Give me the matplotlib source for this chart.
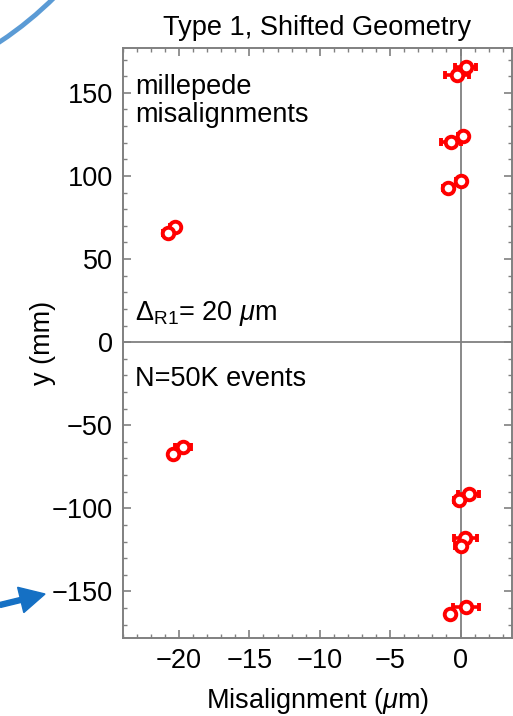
import matplotlib
matplotlib.use("Agg")
import matplotlib.pyplot as plt
from matplotlib.patches import Arc, FancyArrow
from matplotlib.transforms import IdentityTransform
from matplotlib.ticker import MultipleLocator

plt.rcParams['font.family'] = ['Liberation Sans', 'DejaVu Sans']
plt.rcParams['mathtext.fontset'] = 'custom'
plt.rcParams['mathtext.rm'] = 'Liberation Sans'
plt.rcParams['mathtext.it'] = 'Liberation Sans:italic'

# millepede fitted misalignments, first point of each pair
x_a = [0.38, 0.14, 0.0, -20.3, -19.7, 0.57, 0.33, 0.38]
y_a = [165.6, 124.3, 97.0, 69.2, -63.3, -91.1, -118.1, -159.1]
err_a = [0.75, 0.3, 0.3, 0.3, 0.55, 0.76, 0.83, 0.94]

# second point of each pair
x_b = [-0.28, -0.68, -0.92, -20.8, -20.4, -0.14, 0.0, -0.73]
y_b = [161.0, 120.2, 93.0, 65.8, -67.3, -95.2, -122.4, -163.5]
err_b = [0.85, 0.7, 0.3, 0.3, 0.3, 0.3, 0.4, 0.3]

red = '#ff0000'
grey = '#808080'
fs = 19.5

fig = plt.figure(figsize=(5.13, 7.16), dpi=100)
ax = fig.add_axes([0.239, 0.109, 0.759, 0.824])

for xs, ys, es in [(x_a, y_a, err_a), (x_b, y_b, err_b)]:
    ax.errorbar(xs, ys, xerr=es, fmt='o', color=red, mfc='white', mec=red,
                ms=8.3, mew=2.8, elinewidth=2.6, capsize=3, capthick=2.2, zorder=3)

ax.axhline(0, color=grey, lw=1.3, zorder=1)
ax.axvline(0, color=grey, lw=1.3, zorder=1)

ax.set_xlim(-24.0, 3.65)
ax.set_ylim(-178, 177)
ax.xaxis.set_major_locator(MultipleLocator(5))
ax.xaxis.set_minor_locator(MultipleLocator(1))
ax.yaxis.set_major_locator(MultipleLocator(50))
ax.yaxis.set_minor_locator(MultipleLocator(10))
ax.tick_params(which='both', direction='in', top=True, right=True, color=grey,
               labelsize=fs, pad=7)
ax.tick_params(which='major', length=6, width=1.2)
ax.tick_params(which='minor', length=3, width=1.0)
for s in ax.spines.values():
    s.set_color(grey)
    s.set_linewidth(1.4)

ax.set_title('Type 1, Shifted Geometry', fontsize=fs, pad=9)
ax.set_xlabel(r'Misalignment ($\mu$m)', fontsize=fs, labelpad=9)
ax.set_ylabel('y (mm)', fontsize=fs, labelpad=-3)

ax.text(-23.1, 153.5, 'millepede', fontsize=fs, va='center', ha='left')
ax.text(-23.1, 136.5, 'misalignments', fontsize=fs, va='center', ha='left')
ax.text(-23.1, 17, r'$\Delta_{\rm R1}$= 20 $\mu$m', fontsize=fs, va='center', ha='left')
ax.text(-23.1, -22, 'N=50K events', fontsize=fs, va='center', ha='left')

# slide annotations around the chart (pixel coordinates, origin bottom-left)
fig.add_artist(Arc((-200, 716 + 258.8), 722, 722, theta1=270, theta2=360,
                   transform=IdentityTransform(), color='#5b9bd5', lw=3.5))
fig.add_artist(FancyArrow(0, 716 - 605, 45, 11, width=5, head_width=26,
                          head_length=25, length_includes_head=True,
                          color='#1570c4', transform=IdentityTransform()))

fig.savefig('out.png', dpi=100)
